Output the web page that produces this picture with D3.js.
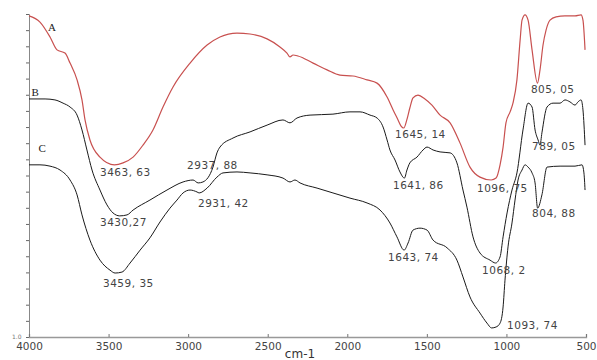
<!DOCTYPE html>
<html>
<head>
<meta charset="utf-8">
<script src="https://cdn.jsdelivr.net/npm/d3@7"></script>
<style>
  body { margin: 0; background: #fff; }
  svg { display: block; }
</style>
</head>
<body>
<div id="chart"></div>
<script>
// x-axis ticks (cm-1, reversed)
const xTicks = [4000, 3500, 3000, 2500, 2000, 1500, 1000, 500];

// spectrum A (red) : [wavenumber, transmittance a.u.]
const specA = [
  [4000,99.4],[3931,97.5],[3868,92.9],[3824,88.9],[3774,87.9],[3742,84.8],[3698,79.6],
  [3667,73.4],[3648,67.2],[3617,61.0],[3554,55.7],[3463,53.3],[3409,53.9],[3346,55.7],
  [3284,59.4],[3221,64.1],[3158,71.2],[3095,77.4],[2988,84.8],[2881,90.4],[2800,92.9],
  [2693,94.1],[2611,93.8],[2504,92.3],[2423,89.8],[2379,87.9],[2360,86.7],[2341,87.3],
  [2310,87.0],[2215,84.8],[2127,82.7],[2046,81.1],[1964,80.8],[1876,79.6],[1813,78.6],
  [1750,74.3],[1712,70.3],[1681,67.2],[1662,65.3],[1645,64.7],[1626,67.2],[1607,70.9],
  [1587,74.0],[1556,74.9],[1512,73.7],[1468,71.8],[1417,68.7],[1354,66.3],[1292,60.1],
  [1229,52.6],[1166,49.5],[1096,48.6],[1065,49.2],[1040,53.3],[1021,58.8],[1003,66.3],
  [977,69.7],[959,72.4],[934,79.6],[914,91.9],[902,98.1],[883,99.7],[864,98.1],
  [839,88.9],[805,78.6],[789,82.7],[770,90.4],[751,95.0],[726,98.1],[688,99.1],
  [632,99.4],[569,99.4],[531,99.7],[519,98.1],[506,88.9]
];

// spectrum B (black)
const specB = [
  [4000,73.7],[3899,73.7],[3837,73.4],[3786,72.4],[3742,71.2],[3698,68.7],[3667,64.1],
  [3636,57.9],[3604,51.7],[3554,45.5],[3510,40.9],[3472,38.4],[3430,37.5],[3384,37.8],
  [3346,39.3],[3240,42.4],[3133,45.5],[3032,48.0],[2969,48.6],[2937,47.7],[2907,48.0],
  [2844,52.6],[2819,57.0],[2800,58.8],[2718,61.6],[2611,63.5],[2504,65.6],[2404,67.2],
  [2360,66.3],[2316,67.8],[2234,68.7],[2090,69.0],[1983,69.7],[1920,69.7],[1857,68.7],
  [1813,67.8],[1775,65.0],[1750,61.0],[1732,57.9],[1700,54.8],[1669,51.1],[1641,49.2],
  [1625,51.7],[1607,53.9],[1562,55.7],[1524,57.9],[1499,58.8],[1461,57.9],[1417,57.3],
  [1354,57.0],[1311,53.9],[1273,45.5],[1248,40.2],[1210,31.0],[1166,26.0],[1103,23.8],
  [1068,22.9],[1040,24.8],[1021,31.0],[996,38.4],[965,45.5],[934,50.8],[896,64.1],
  [864,72.4],[839,71.2],[820,64.1],[801,61.0],[789,59.4],[777,63.2],[745,71.2],
  [707,72.4],[663,72.4],[632,73.4],[601,72.8],[569,71.8],[550,72.8],[531,73.4],
  [519,70.3],[506,59.4]
];

// spectrum C (black)
const specC = [
  [4000,53.3],[3931,53.3],[3868,52.9],[3805,51.7],[3742,48.6],[3698,44.0],[3667,37.8],
  [3617,30.0],[3554,23.8],[3491,20.7],[3459,19.8],[3416,20.1],[3365,22.9],[3302,26.9],
  [3240,30.7],[3177,35.6],[3114,39.9],[3070,42.4],[3032,44.6],[2988,45.5],[2944,44.9],
  [2931,44.6],[2881,46.1],[2819,49.5],[2781,50.8],[2693,51.1],[2611,50.8],[2504,50.2],
  [2404,49.2],[2360,48.0],[2329,48.6],[2297,47.7],[2190,46.1],[2090,44.6],[1983,43.0],
  [1876,41.5],[1794,39.3],[1732,35.3],[1688,31.0],[1643,26.9],[1618,29.1],[1587,33.1],
  [1543,33.7],[1499,33.1],[1461,30.0],[1373,27.6],[1311,23.8],[1273,18.6],[1229,12.4],
  [1166,7.4],[1122,4.3],[1093,2.8],[1065,3.1],[1040,4.3],[1021,9.3],[1009,17.6],
  [990,27.9],[965,35.3],[946,42.4],[927,48.6],[902,51.7],[883,53.3],[864,52.6],
  [839,50.8],[820,47.7],[804,39.9],[777,44.0],[745,52.6],[663,52.9],[569,52.9],
  [525,53.3],[513,50.8],[506,45.5]
];

// curve names and peak annotations: [text, wavenumber, value]
const curveNames = [["A", 3855, 96.0], ["B", 3962, 75.9], ["C", 3918, 58.5]];
const peakLabels = [
  ["3463, 63", 3554, 51.1],
  ["3430,27", 3554, 35.6],
  ["3459, 35", 3535, 16.7],
  ["2937, 88", 3007, 53.3],
  ["2931, 42", 2938, 41.5],
  ["1645, 14", 1700, 62.8],
  ["1641, 86", 1713, 47.1],
  ["1643, 74", 1744, 24.8],
  ["1096, 75", 1185, 46.1],
  ["1068, 2", 1153, 20.7],
  ["1093, 74", 996, 3.7],
  ["805, 05", 846, 76.8],
  ["789, 05", 839, 59.1],
  ["804, 88", 839, 38.4]
];

const width = 597, height = 360;
const svg = d3.select("#chart").append("svg")
  .attr("width", width)
  .attr("height", height);

const x = d3.scaleLinear().domain([4000, 500]).range([29, 586]);
const y = d3.scaleLinear().domain([0, 100]).range([337, 14]);

// y axis: only small ticks, no values
const yAxis = svg.append("g")
  .attr("transform", "translate(29,0)")
  .call(d3.axisLeft(y).ticks(22).tickSize(3).tickFormat(""));
yAxis.select(".domain").attr("stroke", "#888");
yAxis.selectAll(".tick line").attr("stroke", "#666");

// x axis
const xAxis = svg.append("g")
  .attr("transform", "translate(0,337)")
  .call(d3.axisBottom(x).tickValues(xTicks).tickSize(-3).tickPadding(6).tickFormat(d3.format("d")));
xAxis.select(".domain").attr("stroke", "#999").attr("stroke-width", 1.3);
xAxis.selectAll(".tick line").attr("stroke", "#777");
xAxis.selectAll(".tick text")
  .attr("fill", "#444")
  .style("font-family", "DejaVu Sans, sans-serif")
  .style("font-size", "10.5px");

svg.append("text")
  .attr("x", 300).attr("y", 358)
  .attr("text-anchor", "middle")
  .attr("fill", "#333")
  .style("font-family", "DejaVu Sans, sans-serif")
  .style("font-size", "12px")
  .text("cm-1");

svg.append("text")
  .attr("x", 12).attr("y", 339)
  .attr("fill", "#777")
  .style("font-family", "DejaVu Sans, sans-serif")
  .style("font-size", "6px")
  .text("1.0");

const line = d3.line()
  .x(d => x(d[0]))
  .y(d => y(d[1]))
  .curve(d3.curveMonotoneX);

svg.append("path").datum(specC)
  .attr("fill", "none").attr("stroke", "#1a1a1a").attr("stroke-width", 1)
  .attr("d", line);
svg.append("path").datum(specB)
  .attr("fill", "none").attr("stroke", "#1a1a1a").attr("stroke-width", 1)
  .attr("d", line);
svg.append("path").datum(specA)
  .attr("fill", "none").attr("stroke", "#c8504f").attr("stroke-width", 1.2)
  .attr("d", line);

svg.selectAll(".cname")
  .data(curveNames)
  .enter().append("text")
  .attr("class", "cname")
  .attr("x", d => x(d[1]))
  .attr("y", d => y(d[2]))
  .attr("dy", "0.35em")
  .attr("text-anchor", "middle")
  .attr("fill", "#222")
  .style("font-family", "Liberation Serif, serif")
  .style("font-size", "11px")
  .text(d => d[0]);

svg.selectAll(".plabel")
  .data(peakLabels)
  .enter().append("text")
  .attr("class", "plabel")
  .attr("x", d => x(d[1]))
  .attr("y", d => y(d[2]))
  .attr("dy", "0.35em")
  .attr("fill", "#444")
  .style("font-family", "DejaVu Sans, sans-serif")
  .style("font-size", "10.5px")
  .style("letter-spacing", "0.5px")
  .text(d => d[0]);
</script>
</body>
</html>
